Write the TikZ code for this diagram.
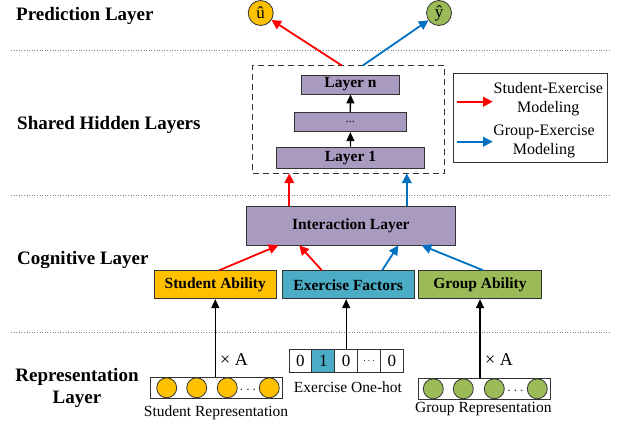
\documentclass[tikz,border=0pt]{standalone}
\usepackage{fontspec}
\setmainfont{Liberation Serif}
\usetikzlibrary{arrows.meta}

\definecolor{layerpurple}{RGB}{168,155,191}
\definecolor{abilgold}{RGB}{255,192,0}
\definecolor{exblue}{RGB}{75,172,198}
\definecolor{grpgreen}{RGB}{155,187,89}
\definecolor{grpblue}{RGB}{0,112,192}

\begin{document}
\begin{tikzpicture}[x=1pt,y=-1pt,
    sec/.style={font=\fontsize{19}{22}\selectfont\bfseries,inner sep=0pt,align=center},
    box/.style={draw=black!80,line width=0.9pt,inner sep=0pt,
                font=\fontsize{15.5}{17}\selectfont\bfseries},
    txt/.style={font=\fontsize{15.5}{19}\selectfont,inner sep=0pt,align=center},
    ball/.style={circle,draw=black!80,line width=0.8pt,minimum size=20pt,inner sep=0pt},
    sarr/.style={red,line width=1.8pt,-{Triangle[length=9.5pt,width=9.5pt]}},
    garr/.style={grpblue,line width=1.8pt,-{Triangle[length=9.5pt,width=9.5pt]}},
    barr/.style={black,line width=1.3pt,-{Triangle[length=9pt,width=8pt]}},
    sep/.style={gray,dotted,line width=0.6pt}]
  \useasboundingbox (0,0) rectangle (618,425);

  % level separators and titles
  \foreach \y in {50,195,332}
    \draw[sep] (11,\y) -- (610,\y);
  \node[sec,anchor=west] (predlbl) at (16,16) {Prediction Layer};
  \node[sec,anchor=west] (hidlbl) at (17,125) {Shared Hidden Layers};
  \node[sec,anchor=west] (coglbl) at (17,260) {Cognitive Layer};
  \node[sec] (replbl) at (77,388) {Representation\\Layer};

  % outputs
  \node[ball,fill=abilgold,minimum size=25pt,font=\fontsize{17}{17}\selectfont] (uhat) at (260.7,13) {û};
  \node[ball,fill=grpgreen,minimum size=25pt,font=\fontsize{17}{17}\selectfont] (yhat) at (439,13) {ŷ};

  % shared hidden layers
  \node[draw=black!80,line width=1pt,dash pattern=on 6pt off 4pt,
        minimum width=192.3pt,minimum height=107pt] (hid) at (348.8,119.5) {};
  \node[box,fill=layerpurple,minimum width=97.6pt,minimum height=19pt] (layn) at (350.5,84.5) {Layer n};
  \node[box,fill=layerpurple,minimum width=112.7pt,minimum height=19.4pt,
        font=\fontsize{12}{12}\selectfont] (layd) at (350.3,122) {...};
  \node[box,fill=layerpurple,minimum width=147.6pt,minimum height=21.7pt] (lay1) at (350.5,158) {Layer 1};
  \draw[barr] (lay1.north) -- (layd.south);
  \draw[barr] (layd.north) -- (layn.south);

  % cognitive layer
  \node[box,fill=layerpurple,minimum width=208.3pt,minimum height=38.3pt] (inter) at (350.8,225.8) {Interaction Layer};
  \node[box,fill=abilgold,minimum width=122.7pt,minimum height=28pt] (sab) at (215.3,284.7) {Student Ability};
  \node[box,fill=exblue,minimum width=131.7pt,minimum height=28pt] (exf) at (348.2,284.7) {Exercise Factors};
  \node[box,fill=grpgreen,minimum width=123.4pt,minimum height=28pt] (gab) at (480,284.7) {Group Ability};

  \draw[sarr] ([xshift=4pt]sab.north) -- ([xshift=-72.5pt]inter.south);
  \draw[sarr] ([xshift=-26.5pt]exf.north) -- ([xshift=-51.5pt]inter.south);
  \draw[garr] ([xshift=34pt]exf.north) -- ([xshift=47.5pt]inter.south);
  \draw[garr] ([xshift=3pt]gab.north) -- ([xshift=71pt]inter.south);
  \draw[sarr] ([xshift=-61.5pt]inter.north) -- ([xshift=-59.5pt]hid.south);
  \draw[garr] ([xshift=56pt]inter.north) -- ([xshift=58pt]hid.south);
  \draw[sarr] ([xshift=-7pt]hid.north) -- (uhat);
  \draw[garr] ([xshift=14pt]hid.north) -- (yhat);

  % legend
  \node[draw=black!80,line width=0.9pt,minimum width=154.4pt,minimum height=89pt] (leg) at (530.5,117.8) {};
  \coordinate (lsa) at (456.7,101.7);
  \coordinate (lsb) at (492.7,101.7);
  \coordinate (lga) at (456.7,141.7);
  \coordinate (lgb) at (492.7,141.7);
  \draw[sarr] (lsa) -- (lsb);
  \draw[garr] (lga) -- (lgb);
  \node[txt,font=\fontsize{16}{19}\selectfont] (legs) at (548.3,99) {Student-Exercise\\Modeling};
  \node[txt,font=\fontsize{16}{19}\selectfont] (legg) at (544,141) {Group-Exercise\\Modeling};

  % student representation
  \node[draw=black!80,line width=0.8pt,minimum width=132pt,minimum height=21pt] (srep) at (216.7,387.8) {};
  \foreach \x [count=\i] in {166.7,196.7,227.3,269.3}
    \node[ball,fill=abilgold] (s\i) at (\x,387.8) {};
  \node[inner sep=0pt,font=\fontsize{14}{14}\selectfont] (sdots) at (248,390) {$\ldots$};
  \node[txt] (srepl) at (216,412.7) {Student Representation};
  \node[txt,font=\fontsize{18}{18}\selectfont] (xas) at (234,359.3) {× A};
  \draw[barr] (sab.south |- srep.north) -- (sab.south);

  % exercise one-hot
  \foreach \v/\c [count=\i] in {0/white,1/exblue,0/white,{\fontsize{10}{10}\selectfont$\cdots$}/white,0/white}
    \node[draw=black!80,line width=0.8pt,fill=\c,minimum width=22.9pt,minimum height=23pt,
          inner sep=0pt,font=\fontsize{17}{17}\selectfont] (oh\i) at (277.6+22.86*\i,360.8) {\v};
  \node[txt] (ohl) at (348,387.3) {Exercise One-hot};
  \draw[barr] (oh3.north) -- (oh3.north |- exf.south);

  % group representation
  \node[draw=black!80,line width=0.8pt,minimum width=131.7pt,minimum height=21pt] (grep) at (484.2,388.8) {};
  \foreach \x [count=\i] in {433.3,463.3,494.3,537.3}
    \node[ball,fill=grpgreen] (g\i) at (\x,388.8) {};
  \node[inner sep=0pt,font=\fontsize{14}{14}\selectfont] (gdots) at (515.5,391) {$\ldots$};
  \node[txt] (grepl) at (483.3,409.3) {Group Representation};
  \node[txt,font=\fontsize{18}{18}\selectfont] (xag) at (499,359.3) {× A};
  \draw[barr] (gab.south |- grep.north) -- (gab.south);
\end{tikzpicture}
\end{document}
